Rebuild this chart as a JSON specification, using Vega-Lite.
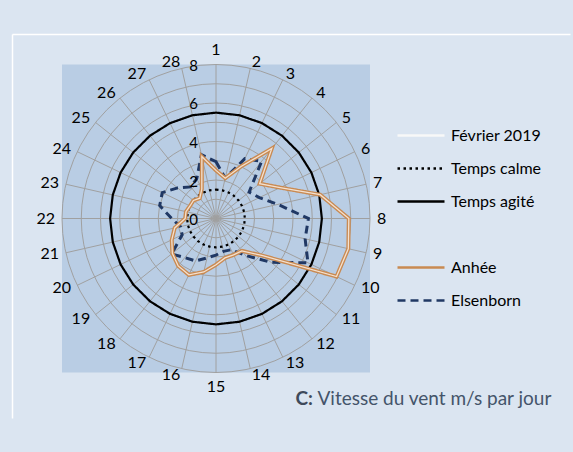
{
  "$schema": "https://vega.github.io/schema/vega-lite/v6.json",
  "width": 558,
  "height": 384,
  "autosize": {"type": "none"},
  "padding": {"left": 12, "top": 34, "right": 3, "bottom": 34},
  "background": "#dbe5f1",
  "config": {
    "view": {"stroke": null},
    "font": "Lato",
    "axis": {"labels": false, "ticks": false, "domain": false, "grid": false},
    "legend": {"symbolType": "stroke", "symbolSize": 2209, "symbolStrokeWidth": 2.5, "clipHeight": 32.2, "rowPadding": 0, "padding": 0,
      "labelOffset": 5, "labelFontSize": 16, "labelFont": "Lato", "labelColor": "#000000", "labelLimit": 0}
  },
  "datasets": {
    "wind": [
      {"day": 1, "Anhée": 2.5, "Elsenborn": 2.95, "Temps calme": 1.5, "Temps agité": 5.5},
      {"day": 2, "Anhée": 2.15, "Elsenborn": 2.15, "Temps calme": 1.5, "Temps agité": 5.5},
      {"day": 3, "Anhée": 3.0, "Elsenborn": 3.45, "Temps calme": 1.5, "Temps agité": 5.5},
      {"day": 4, "Anhée": 4.65, "Elsenborn": 3.8, "Temps calme": 1.5, "Temps agité": 5.5},
      {"day": 5, "Anhée": 2.9, "Elsenborn": 2.2, "Temps calme": 1.5, "Temps agité": 5.5},
      {"day": 6, "Anhée": 3.7, "Elsenborn": 2.5, "Temps calme": 1.5, "Temps agité": 5.5},
      {"day": 7, "Anhée": 5.55, "Elsenborn": 3.3, "Temps calme": 1.5, "Temps agité": 5.5},
      {"day": 8, "Anhée": 6.9, "Elsenborn": 4.8, "Temps calme": 1.5, "Temps agité": 5.5},
      {"day": 9, "Anhée": 7.05, "Elsenborn": 4.75, "Temps calme": 1.5, "Temps agité": 5.5},
      {"day": 10, "Anhée": 6.95, "Elsenborn": 5.3, "Temps calme": 1.5, "Temps agité": 5.5},
      {"day": 11, "Anhée": 3.1, "Elsenborn": 3.65, "Temps calme": 1.5, "Temps agité": 5.5},
      {"day": 12, "Anhée": 2.15, "Elsenborn": 2.45, "Temps calme": 1.5, "Temps agité": 5.5},
      {"day": 13, "Anhée": 2.1, "Elsenborn": 1.8, "Temps calme": 1.5, "Temps agité": 5.5},
      {"day": 14, "Anhée": 2.1, "Elsenborn": 1.75, "Temps calme": 1.5, "Temps agité": 5.5},
      {"day": 15, "Anhée": 2.4, "Elsenborn": 1.9, "Temps calme": 1.5, "Temps agité": 5.5},
      {"day": 16, "Anhée": 2.85, "Elsenborn": 2.1, "Temps calme": 1.5, "Temps agité": 5.5},
      {"day": 17, "Anhée": 3.25, "Elsenborn": 2.45, "Temps calme": 1.5, "Temps agité": 5.5},
      {"day": 18, "Anhée": 3.15, "Elsenborn": 2.6, "Temps calme": 1.5, "Temps agité": 5.5},
      {"day": 19, "Anhée": 2.9, "Elsenborn": 2.95, "Temps calme": 1.5, "Temps agité": 5.5},
      {"day": 20, "Anhée": 2.55, "Elsenborn": 1.95, "Temps calme": 1.5, "Temps agité": 5.5},
      {"day": 21, "Anhée": 2.2, "Elsenborn": 1.9, "Temps calme": 1.5, "Temps agité": 5.5},
      {"day": 22, "Anhée": 1.6, "Elsenborn": 2.3, "Temps calme": 1.5, "Temps agité": 5.5},
      {"day": 23, "Anhée": 1.6, "Elsenborn": 3.0, "Temps calme": 1.5, "Temps agité": 5.5},
      {"day": 24, "Anhée": 1.5, "Elsenborn": 3.1, "Temps calme": 1.5, "Temps agité": 5.5},
      {"day": 25, "Anhée": 1.5, "Elsenborn": 2.55, "Temps calme": 1.5, "Temps agité": 5.5},
      {"day": 26, "Anhée": 1.35, "Elsenborn": 2.1, "Temps calme": 1.5, "Temps agité": 5.5},
      {"day": 27, "Anhée": 1.7, "Elsenborn": 2.3, "Temps calme": 1.5, "Temps agité": 5.5},
      {"day": 28, "Anhée": 3.3, "Elsenborn": 3.4, "Temps calme": 1.5, "Temps agité": 5.5}
    ]
  },
  "layer": [
    {
      "data": {"values": [{"lo": -8, "hi": 8}]},
      "mark": {"type": "rect", "fill": "#b9cde4"},
      "encoding": {
        "x": {"field": "lo", "type": "quantitative",
          "scale": {"domain": [-10.5974, 18.3896], "nice": false, "zero": false},
          "axis": {"orient": "top", "title": "Vitesse du vent m/s par jour", "domain": true, "domainColor": "#ffffff", "domainWidth": 1.5,
            "titleX": 305, "titleY": 364, "titleAlign": "left", "titleBaseline": "middle",
            "titleFontSize": 19, "titleFontWeight": "normal", "titleColor": "#44546a", "titleFont": "Lato"}},
        "x2": {"field": "hi"},
        "y": {"field": "lo", "type": "quantitative",
          "scale": {"domain": [-10.3636, 9.5844], "nice": false, "zero": false},
          "axis": {"title": "C:", "domain": true, "domainColor": "#ffffff", "domainWidth": 1.5,
            "titleAngle": 0, "titleX": 283, "titleY": 364, "titleAlign": "left", "titleBaseline": "middle",
            "titleFontSize": 19, "titleFontWeight": "bold", "titleColor": "#3e4a5b", "titleFont": "Lato"}},
        "y2": {"field": "hi"}
      }
    },
    {
      "data": {"values": [{"r": 1}, {"r": 2}, {"r": 3}, {"r": 4}, {"r": 5}, {"r": 6}, {"r": 7}, {"r": 8}]},
      "transform": [{"calculate": "0", "as": "o"}],
      "mark": {"type": "point", "shape": "circle", "filled": false, "color": "#a0a0a0", "strokeWidth": 1, "opacity": 1},
      "encoding": {
        "x": {"field": "o", "type": "quantitative"},
        "y": {"field": "o", "type": "quantitative"},
        "size": {"field": "r", "type": "quantitative", "legend": null,
          "scale": {"type": "pow", "exponent": 2, "domain": [0, 8], "range": [0, 94864], "zero": true, "nice": false}}
      }
    },
    {
      "data": {"name": "wind"},
      "transform": [
        {"calculate": "0", "as": "o"},
        {"calculate": "(datum.day-1)*2*PI/28", "as": "a"},
        {"calculate": "8*sin(datum.a)", "as": "sx"},
        {"calculate": "8*cos(datum.a)", "as": "sy"}
      ],
      "mark": {"type": "rule", "stroke": "#a0a0a0", "strokeWidth": 1},
      "encoding": {
        "x": {"field": "o", "type": "quantitative"},
        "y": {"field": "o", "type": "quantitative"},
        "x2": {"field": "sx"},
        "y2": {"field": "sy"}
      }
    },
    {
      "data": {"name": "wind"},
      "transform": [
        {"fold": ["Temps calme", "Temps agité"], "as": ["series", "v"]},
        {"calculate": "(datum.day-1)*2*PI/28", "as": "a"},
        {"calculate": "datum.v*sin(datum.a)", "as": "px"},
        {"calculate": "datum.v*cos(datum.a)", "as": "py"}
      ],
      "mark": {"type": "line", "interpolate": "linear-closed", "strokeWidth": 2.2},
      "encoding": {
        "x": {"field": "px", "type": "quantitative"},
        "y": {"field": "py", "type": "quantitative"},
        "order": {"field": "day", "type": "quantitative"},
        "color": {"field": "series", "type": "nominal",
          "scale": {"domain": ["Février 2019", "Temps calme", "Temps agité", " ", "Anhée", "Elsenborn"],
            "range": ["#f8f8f8", "#000000", "#000000", "transparent", "#c98a52", "#203864"]},
          "legend": {"title": null, "orient": "none", "legendX": 384, "legendY": 85.5}},
        "strokeDash": {"field": "series", "type": "nominal",
          "scale": {"domain": ["Février 2019", "Temps calme", "Temps agité", " ", "Anhée", "Elsenborn"],
            "range": [[1, 0], [2.5, 3.5], [1, 0], [1, 0], [1, 0], [8, 5]]},
          "legend": {"title": null, "orient": "none", "legendX": 384, "legendY": 85.5}}
      }
    },
    {
      "data": {"name": "wind"},
      "transform": [
        {"fold": ["Elsenborn"], "as": ["series", "v"]},
        {"calculate": "(datum.day-1)*2*PI/28", "as": "a"},
        {"calculate": "datum.v*sin(datum.a)", "as": "px"},
        {"calculate": "datum.v*cos(datum.a)", "as": "py"}
      ],
      "mark": {"type": "line", "interpolate": "linear-closed", "strokeWidth": 3},
      "encoding": {
        "x": {"field": "px", "type": "quantitative"},
        "y": {"field": "py", "type": "quantitative"},
        "order": {"field": "day", "type": "quantitative"},
        "color": {"field": "series", "type": "nominal"},
        "strokeDash": {"field": "series", "type": "nominal"}
      }
    },
    {
      "data": {"name": "wind"},
      "transform": [
        {"fold": ["Anhée"], "as": ["series", "v"]},
        {"calculate": "(datum.day-1)*2*PI/28", "as": "a"},
        {"calculate": "datum.v*sin(datum.a)", "as": "px"},
        {"calculate": "datum.v*cos(datum.a)", "as": "py"}
      ],
      "mark": {"type": "line", "interpolate": "linear-closed", "strokeWidth": 4},
      "encoding": {
        "x": {"field": "px", "type": "quantitative"},
        "y": {"field": "py", "type": "quantitative"},
        "order": {"field": "day", "type": "quantitative"},
        "color": {"field": "series", "type": "nominal"},
        "strokeDash": {"field": "series", "type": "nominal"}
      }
    },
    {
      "data": {"name": "wind"},
      "transform": [
        {"fold": ["Anhée"], "as": ["series", "v"]},
        {"calculate": "(datum.day-1)*2*PI/28", "as": "a"},
        {"calculate": "datum.v*sin(datum.a)", "as": "px"},
        {"calculate": "datum.v*cos(datum.a)", "as": "py"}
      ],
      "mark": {"type": "line", "interpolate": "linear-closed", "stroke": "#f4e1cf", "strokeWidth": 1.3},
      "encoding": {
        "x": {"field": "px", "type": "quantitative"},
        "y": {"field": "py", "type": "quantitative"},
        "order": {"field": "day", "type": "quantitative"}
      }
    },
    {
      "data": {"values": [{"v": 0}, {"v": 2}, {"v": 4}, {"v": 6}, {"v": 8}]},
      "transform": [{"calculate": "0", "as": "o"}],
      "mark": {"type": "text", "align": "right", "baseline": "middle", "dx": -18, "dy": 1.5, "fontSize": 15, "font": "Lato", "color": "#000000"},
      "encoding": {
        "x": {"field": "o", "type": "quantitative"},
        "y": {"field": "v", "type": "quantitative"},
        "text": {"field": "v", "type": "quantitative"}
      }
    },
    {
      "data": {"name": "wind"},
      "transform": [
        {"filter": "datum.day >= 2 && datum.day <= 14"},
        {"calculate": "(datum.day-1)*2*PI/28", "as": "a"},
        {"calculate": "8.36*sin(datum.a)", "as": "lx"},
        {"calculate": "8.36*cos(datum.a)", "as": "ly"}
      ],
      "mark": {"type": "text", "align": "left", "baseline": "middle", "fontSize": 16, "font": "Lato", "color": "#000000"},
      "encoding": {
        "x": {"field": "lx", "type": "quantitative"},
        "y": {"field": "ly", "type": "quantitative"},
        "text": {"field": "day", "type": "quantitative"}
      }
    },
    {
      "data": {"name": "wind"},
      "transform": [
        {"filter": "datum.day >= 16"},
        {"calculate": "(datum.day-1)*2*PI/28", "as": "a"},
        {"calculate": "8.36*sin(datum.a)", "as": "lx"},
        {"calculate": "8.36*cos(datum.a)", "as": "ly"}
      ],
      "mark": {"type": "text", "align": "right", "baseline": "middle", "fontSize": 16, "font": "Lato", "color": "#000000"},
      "encoding": {
        "x": {"field": "lx", "type": "quantitative"},
        "y": {"field": "ly", "type": "quantitative"},
        "text": {"field": "day", "type": "quantitative"}
      }
    },
    {
      "data": {"name": "wind"},
      "transform": [
        {"filter": "datum.day == 1"},
        {"calculate": "(datum.day-1)*2*PI/28", "as": "a"},
        {"calculate": "8.36*sin(datum.a)", "as": "lx"},
        {"calculate": "8.36*cos(datum.a)", "as": "ly"}
      ],
      "mark": {"type": "text", "align": "center", "baseline": "bottom", "fontSize": 16, "font": "Lato", "color": "#000000"},
      "encoding": {
        "x": {"field": "lx", "type": "quantitative"},
        "y": {"field": "ly", "type": "quantitative"},
        "text": {"field": "day", "type": "quantitative"}
      }
    },
    {
      "data": {"name": "wind"},
      "transform": [
        {"filter": "datum.day == 15"},
        {"calculate": "(datum.day-1)*2*PI/28", "as": "a"},
        {"calculate": "8.36*sin(datum.a)", "as": "lx"},
        {"calculate": "8.36*cos(datum.a)", "as": "ly"}
      ],
      "mark": {"type": "text", "align": "center", "baseline": "top", "fontSize": 16, "font": "Lato", "color": "#000000"},
      "encoding": {
        "x": {"field": "lx", "type": "quantitative"},
        "y": {"field": "ly", "type": "quantitative"},
        "text": {"field": "day", "type": "quantitative"}
      }
    }
  ]
}
